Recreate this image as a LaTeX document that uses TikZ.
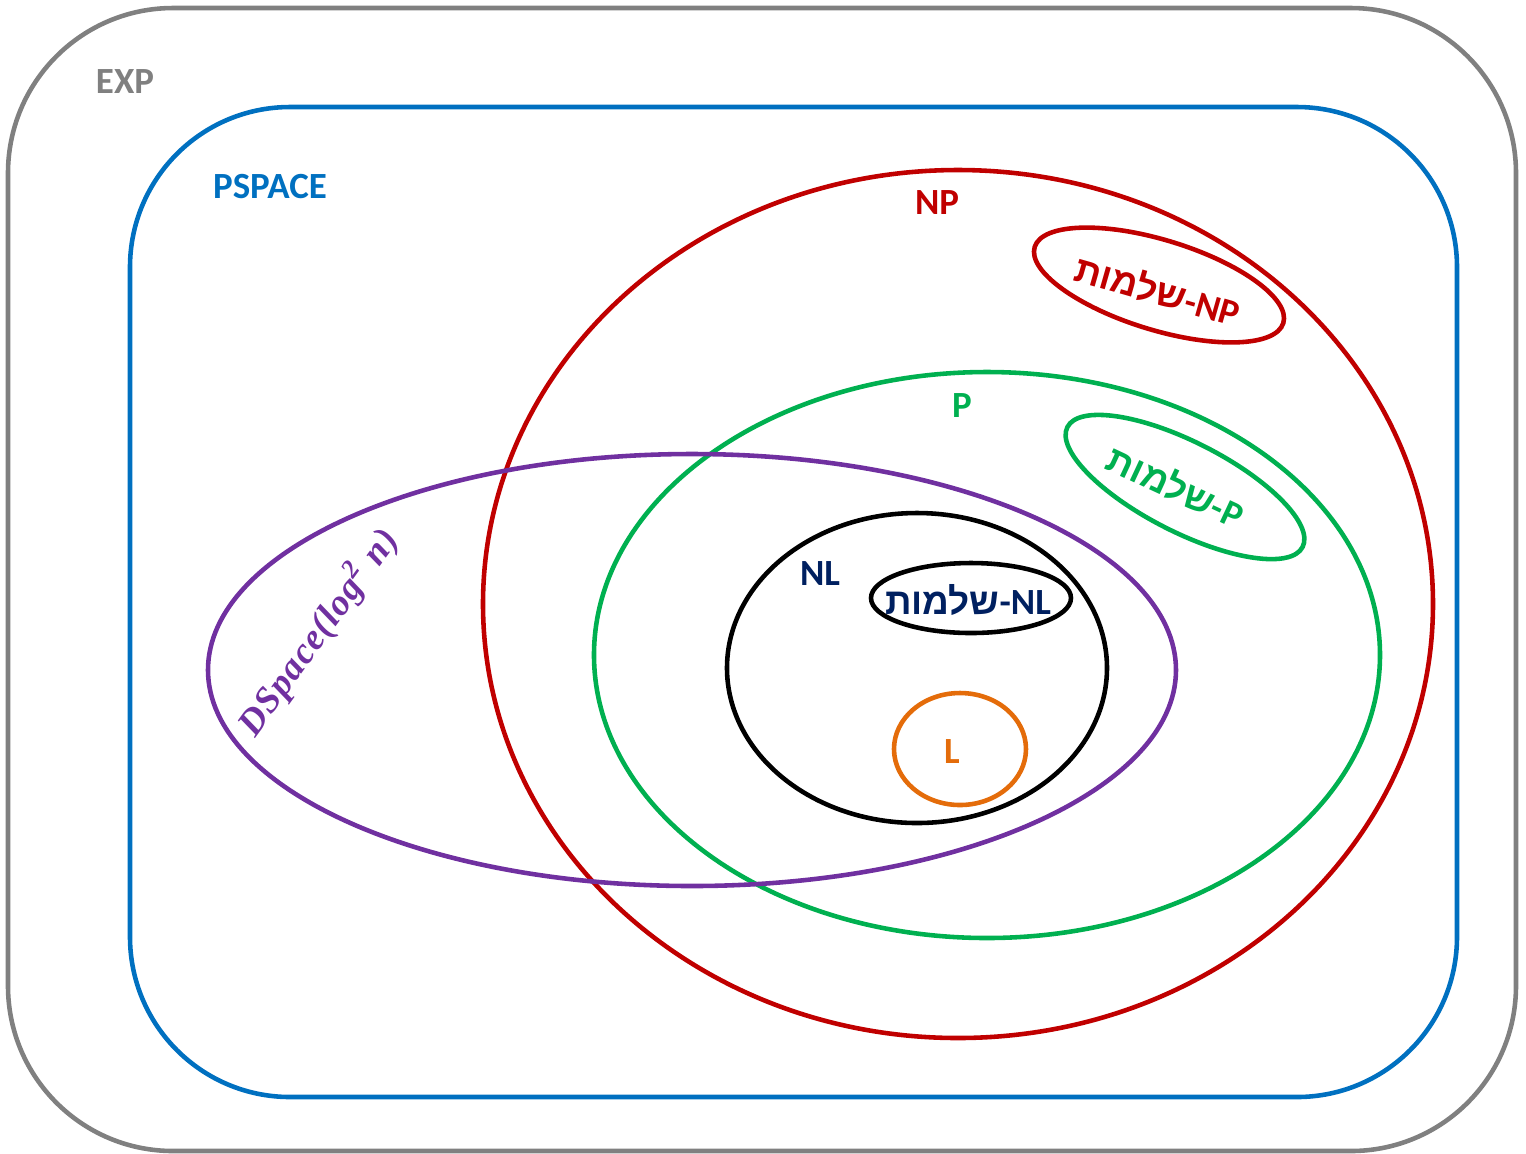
\documentclass[tikz,border=0pt]{standalone}
\usepackage{fontspec}
\setmainfont{Carlito}
\newfontfamily\hebfont[Script=Hebrew]{Liberation Sans}
\newfontfamily\dsfont[LetterSpace=3]{Liberation Serif}
\TeXXeTstate=1
\definecolor{expgray}{RGB}{128,128,128}
\definecolor{pspblue}{RGB}{0,112,192}
\definecolor{npred}{RGB}{192,0,0}
\definecolor{pgreen}{RGB}{0,176,80}
\definecolor{dspurple}{RGB}{112,48,160}
\definecolor{nlnavy}{RGB}{0,32,96}
\definecolor{lorange}{RGB}{228,108,10}
\tikzset{
  cls/.style={line width=1.3pt},
  lbl/.style={font=\bfseries\fontsize{10.5}{12}\selectfont, inner sep=0pt},
  dslbl/.style={font=\dsfont\bfseries\itshape\fontsize{10.5}{12}\selectfont, inner sep=0pt},
}
\newcommand{\hebcompl}[1]{{\hebfont\bfseries\beginR שלמות\endR}-#1}
\begin{document}
\begin{tikzpicture}[x=0.01cm, y=-0.01cm]
            \useasboundingbox (0,0) rectangle (1526,1153);
            % outer classes
            \draw[cls, expgray, rounded corners=1.65cm] (8,8) rectangle (1516,1151);
            \node[lbl, expgray] (exp) at (125,82) {EXP};
            \draw[cls, pspblue, rounded corners=1.6cm] (130,107) rectangle (1457,1097);
            \node[lbl, pspblue] (pspace) at (270,187) {PSPACE};
            % NP
            \draw[cls, npred] (958,604) ellipse [x radius=475, y radius=434];
            \node[lbl, npred] (np) at (937,203) {NP};
            \draw[cls, npred, rotate around={-17:(1159,285)}] (1159,285) ellipse [x radius=130, y radius=45];
            \node[lbl, npred, rotate=-16] (npc) at (1158,290) {\hebcompl{NP}};
            % P
            \draw[cls, pgreen] (987,655) ellipse [x radius=393, y radius=283];
            \node[lbl, pgreen] (p) at (962,406) {P};
            \draw[cls, pgreen, rotate around={-27:(1185,487)}] (1185,487) ellipse [x radius=132, y radius=45];
            \node[lbl, pgreen, rotate=-25] (pc) at (1176,486) {\hebcompl{P}};
            % DSpace(log^2 n)
            \draw[cls, dspurple] (692,670) ellipse [x radius=484, y radius=216];
            \node[dslbl, dspurple, rotate=54] (dspace) at (318,632) {DSpace(log\textsuperscript{2} n)};
            % NL
            \draw[cls, black] (917,668) ellipse [x radius=190, y radius=155];
            \node[lbl, nlnavy] (nl) at (820,574) {NL};
            \draw[cls, black] (971,598) ellipse [x radius=100, y radius=35];
            \node[lbl, nlnavy] (nlc) at (968,600) {\hebcompl{NL}};
            % L
            \draw[cls, lorange] (960,749) ellipse [x radius=66, y radius=56];
            \node[lbl, lorange] (l) at (952,752) {L};
        \end{tikzpicture}
\end{document}
